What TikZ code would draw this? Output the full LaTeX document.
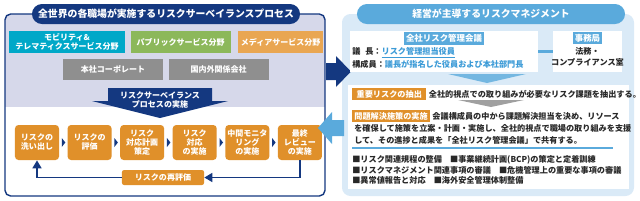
\documentclass[tikz,border=0pt]{standalone}
\usepackage{fontspec}
\setmainfont{Noto Sans CJK JP}
\usetikzlibrary{calc,arrows.meta,positioning}
\definecolor{navyColor}{RGB}{20,56,128}
\definecolor{lavColor}{RGB}{214,216,234}
\definecolor{mobColor}{RGB}{0,168,200}
\definecolor{pubColor}{RGB}{140,184,90}
\definecolor{medColor}{RGB}{233,166,82}
\definecolor{corpColor}{RGB}{143,143,143}
\definecolor{procColor}{RGB}{224,144,42}
\definecolor{skyColor}{RGB}{90,170,220}
\definecolor{paleColor}{RGB}{218,234,247}
\definecolor{linkColor}{RGB}{60,155,215}
\definecolor{textColor}{RGB}{40,40,40}
\definecolor{chevColor}{RGB}{160,160,160}
\newcommand{\titlefont}{\fontsize{7}{8}\selectfont\bfseries}
\newcommand{\boxfont}{\fontsize{5.7}{6.4}\selectfont\bfseries}
\newcommand{\hdrfont}{\fontsize{6}{7}\selectfont\bfseries}
\newcommand{\bodyfont}{\fontsize{5.8}{8.5}\selectfont\bfseries}

\begin{document}
\begin{tikzpicture}[x=0.025cm, y=-0.025cm,
        pill/.style={rounded corners=0.25cm, minimum width=6.7cm, minimum height=0.5cm, text=white, font=\titlefont},
        unitbox/.style={minimum height=0.55cm, align=center, text=white, font=\boxfont, inner sep=0pt},
        proc/.style={rounded corners=2.5pt, fill=procColor, minimum width=1.1cm, minimum height=0.875cm, align=center, text=white, font=\boxfont, inner sep=0pt},
        backarr/.style={-{Triangle[length=2mm, width=2.2mm]}, line width=1.4pt, navyColor},
        wbox/.style={fill=white, minimum height=1.025cm},
        hdr/.style={fill=skyColor, text=white, font=\hdrfont, inner sep=1.5pt, minimum height=0.27cm},
        tagbox/.style={fill=procColor, text=white, font=\bodyfont, inner sep=1.5pt, minimum height=0.3cm, minimum width=1.85cm},
        bodytext/.style={text=textColor, font=\bodyfont, inner sep=0pt, anchor=west, align=left}
      ]
      \useasboundingbox (0,0) rectangle (640,200);

      \begin{scope}
        \clip[rounded corners=4pt] (5,14) rectangle (325,196);
        \fill[white] (5,14) rectangle (325,196);
        \fill[lavColor] (5,14) rectangle (325,107);
      \end{scope}
      \draw[navyColor, line width=1pt, rounded corners=4pt] (5,14) rectangle (325,196);
      \node[pill, fill=navyColor] (survTitle) at (166,14) {全世界の各職場が実施するリスクサーベイランスプロセス};

      \node[unitbox, fill=mobColor, minimum width=2.9cm] (mobility) at (67,42) {モビリティ\&\\テレマティクスサービス分野};
      \node[unitbox, fill=pubColor, minimum width=2.5cm, right=0.125cm of mobility] (public) {パブリックサービス分野};
      \node[unitbox, fill=medColor, minimum width=2.125cm, right=0.175cm of public] (media) {メディアサービス分野};
      \node[unitbox, fill=corpColor, minimum width=2.5cm, minimum height=0.525cm] (corporate) at (113,69.5) {本社コーポレート};
      \node[unitbox, fill=corpColor, minimum width=2.5cm, minimum height=0.525cm, right=0.125cm of corporate] (affiliates) {国内外関係会社};

      \fill[navyColor] (108,88) -- (212,88) -- (212,101) -- (228,101) -- (160,118) -- (92,101) -- (108,101) -- cycle;
      \node[text=white, font=\boxfont, align=center] (survDo) at (160,100) {リスクサーベイランス\\プロセスの実施};

      \node[proc] (p1) at (37,142.5) {リスクの\\洗い出し};
      \node[proc, right=0.2cm of p1] (p2) {リスクの\\評価};
      \node[proc, right=0.2cm of p2] (p3) {リスク\\対応計画\\策定};
      \node[proc, right=0.2cm of p3] (p4) {リスク\\対応\\の実施};
      \node[proc, right=0.2cm of p4] (p5) {中間モニタ\\リング\\の実施};
      \node[proc, right=0.2cm of p5] (p6) {最終\\レビュー\\の実施};
      \foreach \a/\b in {p1/p2,p2/p3,p3/p4,p4/p5,p5/p6}
        \fill[navyColor] ($(\a.east)!0.5!(\b.west)+(-1.5,-4.5)$) -- ++(3.5,4.5) -- ++(-3.5,4.5) -- cycle;

      \node[proc, minimum width=2.05cm, minimum height=0.375cm, rounded corners=1.5pt] (reeval) at (163,177.5) {リスクの再評価};
      \draw[backarr] (p6.south) -- (p6.south |- reeval.center) -- (reeval.east);
      \draw[backarr] (reeval.west) -- (p1.south |- reeval.center) -- (p1.south);

      \fill[paleColor, rounded corners=6pt] (342,14) rectangle (634,196);
      \fill[navyColor] (326,63) -- (336,63) -- (336,56) -- (351,71.5) -- (336,87) -- (336,80) -- (326,80) -- cycle;
      \fill[skyColor] (344,120) -- (332,120) -- (332,112) -- (318,128) -- (332,144) -- (332,136) -- (344,136) -- cycle;
      \node[pill, fill=skyColor] (mgmtTitle) at (491,14) {経営が主導するリスクマネジメント};

      \node[wbox, minimum width=4.7cm] (council) at (444,51.5) {};
      \node[hdr, below=0.03cm of council.north] (councilHdr) {全社リスク管理会議};
      \node[bodytext] (chair) at (352,52.5) {議\hspace{0.6em}長：\textcolor{linkColor}{\underline{リスク管理担当役員}}};
      \node[bodytext] (members) at (352,64.5) {構成員：\textcolor{linkColor}{議長が指名した役員および本社部門長}};
      \node[wbox, minimum width=1.725cm] (office) at (587.5,51.5) {};
      \node[hdr, below=0.03cm of office.north] (officeHdr) {事務局};
      \node[bodytext, align=center, below=0.05cm of officeHdr] (officeText) {法務・\\コンプライアンス室};
      \draw[skyColor, line width=2.2pt] (council.east) -- (office.west);

      \fill[skyColor!80!paleColor] (448,74) -- (526,74) -- (487,83) -- cycle;
      \fill[white] (348,85) rectangle (629,189);
      \node[tagbox, anchor=west] (extract) at (352,94) {重要リスクの抽出};
      \node[bodytext, right=0.05cm of extract] (extractText) {全社的視点での取り組みが必要なリスク課題を抽出する。};
      \fill[chevColor] (458,100) -- (524,100) -- (491,107) -- cycle;
      \node[tagbox, anchor=west] (solve) at (352,116) {問題解決施策の実施};
      \node[bodytext, right=0.05cm of solve] (solveText1) {会議構成員の中から課題解決担当を決め、リソース};
      \node[bodytext] (solveText2) at (354,128) {を確保して施策を立案・計画・実施し、全社的視点で職場の取り組みを支援};
      \node[bodytext] (solveText3) at (354,140) {して、その進捗と成果を「全社リスク管理会議」で共有する。};
      \draw[skyColor, line width=1pt] (352,148) -- (613,148);
      \node[bodytext] (dutyA) at (352,160) {■リスク関連規程の整備　■事業継続計画(BCP)の策定と定着訓練};
      \node[bodytext] (dutyB) at (352,170) {■リスクマネジメント関連事項の審議　■危機管理上の重要な事項の審議};
      \node[bodytext] (dutyC) at (352,180) {■異常値報告と対応　■海外安全管理体制整備};
    \end{tikzpicture}
\end{document}
